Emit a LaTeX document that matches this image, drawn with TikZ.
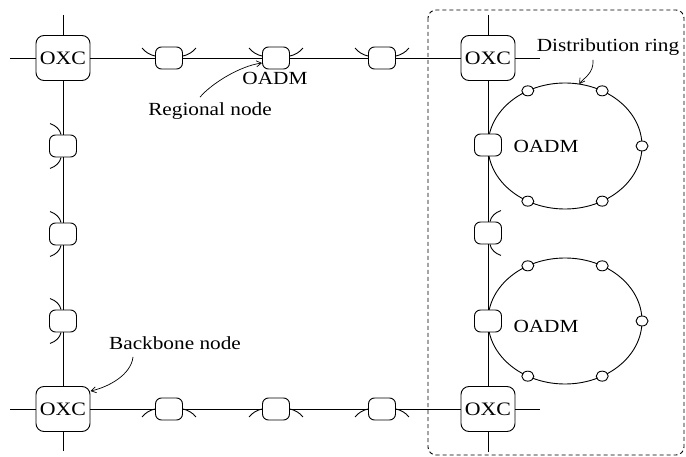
\documentclass[tikz,border=0pt]{standalone}
\usepackage{fontspec}
\setmainfont{Liberation Serif}[FakeStretch=1.15]
\usetikzlibrary{shapes.geometric,arrows.meta}

\tikzset{
  oxc/.style={draw, rounded corners=8pt, minimum width=54pt, minimum height=45pt,
    fill=white, inner sep=0pt, font=\fontsize{19}{19}\selectfont},
  adm/.style={draw, rounded corners=6pt, minimum width=27pt, minimum height=22pt,
    fill=white, inner sep=0pt},
  ringsite/.style={ellipse, draw, fill=white, minimum width=12pt, minimum height=10pt,
    inner sep=0pt},
  ringline/.style={ellipse, draw, minimum width=154pt, minimum height=126pt,
    inner sep=0pt, outer sep=0pt},
  lbl/.style={inner sep=0pt, font=\fontsize{18.5}{18.5}\selectfont},
  leader/.style={line width=0.7pt, -{Straight Barb[length=5pt,width=6pt]}},
  regionframe/.style={line width=0.9pt, dash pattern=on 4pt off 3pt, rounded corners=8pt},
  % short curved stubs beside an add/drop multiplexer
  earh/.pic={\draw (0,0) .. controls (-5,-1) and (-10,-4) .. (-13,-8);},
  earv/.pic={\draw (0,0) .. controls (-1,-5) and (-5,-9) .. (-11,-11);}
}

\begin{document}
\begin{tikzpicture}[x=1pt, y=-1pt, line width=0.9pt]
\useasboundingbox (0,0) rectangle (686,457);

% regional frame
\draw[regionframe] (428,10) rectangle (684,455);

% distribution rings
\node[ringline] (ring1) at (565,146) {};
\node[ringline] (ring2) at (565,321) {};

% backbone cross-connects
\node[oxc] (xTL) at (63,58)  {OXC};
\node[oxc] (xTR) at (488,58) {OXC};
\node[oxc] (xBL) at (63,409) {OXC};
\node[oxc] (xBR) at (488,409) {OXC};

% add/drop multiplexers on the backbone links
\node[adm] (t1) at (169,58) {};
\node[adm] (t2) at (276,58) {};
\node[adm] (t3) at (382,58) {};
\node[adm] (b1) at (169,409) {};
\node[adm] (b2) at (276,409) {};
\node[adm] (b3) at (382,409) {};
\node[adm] (l1) at (63,146) {};
\node[adm] (l2) at (63,234) {};
\node[adm] (l3) at (63,321) {};
\node[adm] (r1) at (488,145) {};
\node[adm] (r2) at (488,233) {};
\node[adm] (r3) at (488,321) {};

% stations on the rings
\foreach \r in {ring1,ring2}{
  \foreach \a in {0,56,124,-56,-124}{
    \node[ringsite] (\r-\a) at (\r.\a) {};
  }
}

% free ends of the backbone links
\coordinate (hTL) at (10,58);
\coordinate (hTR) at (540,58);
\coordinate (hBL) at (10,409);
\coordinate (hBR) at (540,409);
\coordinate (vTL) at (63,15);
\coordinate (vBL) at (63,451);
\coordinate (vTR) at (488,15);
\coordinate (vBR) at (488,452);

% backbone links
\draw (hTL) -- (xTL) -- (t1) -- (t2) -- (t3) -- (xTR) -- (hTR);
\draw (hBL) -- (xBL) -- (b1) -- (b2) -- (b3) -- (xBR) -- (hBR);
\draw (vTL) -- (xTL) -- (l1) -- (l2) -- (l3) -- (xBL) -- (vBL);
\draw (vTR) -- (xTR) -- (r1) -- (r2) -- (r3) -- (xBR) -- (vBR);

% stubs on the horizontal links
\foreach \n in {t1,t2,t3}{
  \pic at ([yshift=2pt]\n.west) {earh};
  \pic[xscale=-1] at ([yshift=2pt]\n.east) {earh};
}
\foreach \n in {b1,b2,b3}{
  \pic[yscale=-1] at (\n.west) {earh};
  \pic[xscale=-1,yscale=-1] at (\n.east) {earh};
}
% stubs on the vertical links
\foreach \n in {l1,l2,l3}{
  \pic at ([xshift=-2pt]\n.north) {earv};
  \pic[yscale=-1] at ([xshift=-2pt]\n.south) {earv};
}
\pic[xscale=-1] at ([xshift=2pt]r2.north) {earv};
\pic[xscale=-1,yscale=-1] at ([xshift=2pt]r2.south) {earv};

% labels
\node[lbl] (oadmT) at (275,78) {OADM};
\node[lbl] (reg)   at (210,111) {Regional node};
\node[lbl] (dist)  at (608,47) {Distribution ring};
\node[lbl] (oadm1) at (546,146) {OADM};
\node[lbl] (oadm2) at (546,326) {OADM};
\node[lbl] (bb)    at (175,343) {Backbone node};

% leaders
\draw[leader] ([xshift=-10pt,yshift=5pt]reg.north)
  .. controls +(12,-14) and +(-22,3) .. ([yshift=-5pt]t2.west);
\draw[leader] ([xshift=-42pt,yshift=-7pt]bb.south)
  .. controls +(-2,18) and +(18,-4) .. ([yshift=-5pt]xBL.north east);
\draw[leader] ([xshift=-15pt,yshift=-4pt]dist.south)
  .. controls +(1,14) and +(4,-6) .. (ring1.77);
\end{tikzpicture}
\end{document}
